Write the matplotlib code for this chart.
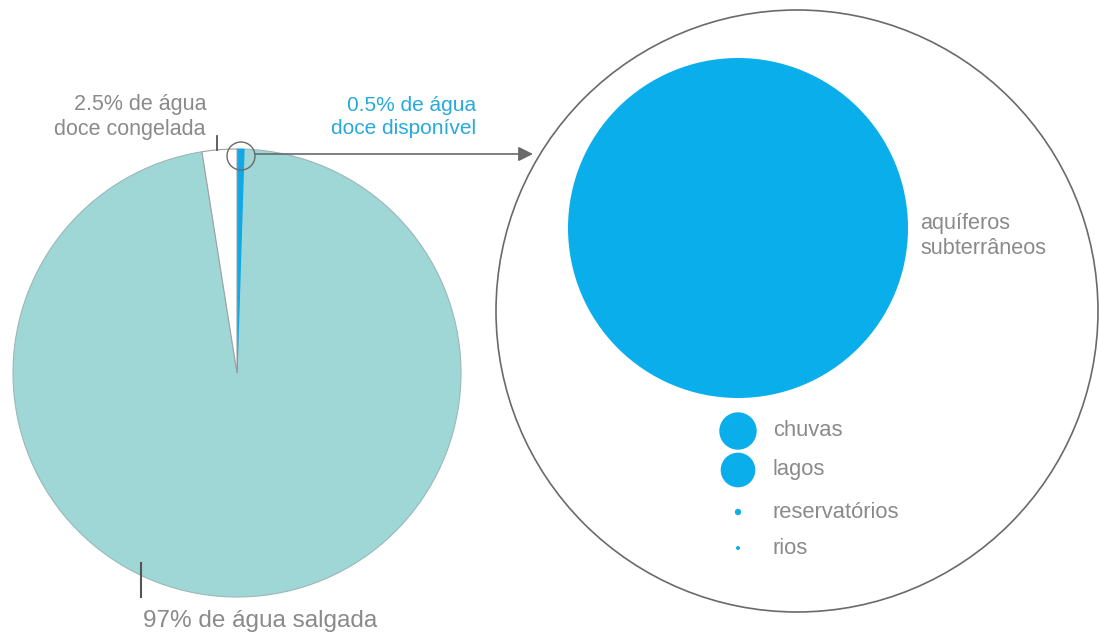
# -*- coding: utf-8 -*-

import numpy as np
import matplotlib.pyplot as plt
from matplotlib.patches import Circle

plt.rcParams['font.family'] = ['Liberation Sans', 'DejaVu Sans']

# share of all water on Earth (%)
pie_labels = ["97% de água salgada", "0.5% de água\ndoce disponível", "2.5% de água\ndoce congelada"]
pie_values = [97, 0.5, 2.5]
pie_colors = ["#9fd6d6", "#12a8e6", "#ffffff"]

# available fresh water, relative volume (bubble area)
fresh_labels = ["aquíferos\nsubterrâneos", "chuvas", "lagos", "reservatórios", "rios"]
fresh_values = [28900, 350, 300, 10, 4]

W, H = 1100, 639
GRAY_TXT = "#8a8a8a"
BLUE_TXT = "#27a9dc"
LINE = "#6a6a6a"
BUBBLE = "#0aaeea"

fig = plt.figure(figsize=(W / 100, H / 100), dpi=100)
ax = fig.add_axes([0, 0, 1, 1])

# left pie
pie_c = (237, H - 373)
pie_r = 224
wedges, _ = ax.pie(pie_values, colors=pie_colors, startangle=99, counterclock=True,
                   center=pie_c, radius=pie_r,
                   wedgeprops=dict(linewidth=0.8, edgecolor="#9ab8b8"))
wedges[1].set_edgecolor(pie_colors[1])
wedges[2].set_edgecolor("#a0a0a0")

# labels of the pie
ax.text(143, H - 621, pie_labels[0], ha="left", va="center", fontsize=17.5, color=GRAY_TXT)
ax.plot([141, 141], [H - 563, H - 597], color="#555555", lw=1.5)
ax.text(206, H - 117, pie_labels[2], ha="right", va="center", fontsize=15.5, color=GRAY_TXT,
        linespacing=1.3)
ax.plot([217, 217], [H - 136, H - 150], color="#555555", lw=1.3)
ax.text(476, H - 117, pie_labels[1], ha="right", va="center", fontsize=15, color=BLUE_TXT,
        linespacing=1.3)

# zoom ring + arrow
ax.add_patch(Circle((241, H - 156), 14, fill=False, edgecolor=LINE, lw=1))
ax.annotate("", xy=(533, H - 154), xytext=(255, H - 154),
            arrowprops=dict(arrowstyle="-|>", color=LINE, lw=1.2, mutation_scale=22,
                            shrinkA=0, shrinkB=0))

# right circle with fresh water sources
ax.add_patch(Circle((797, H - 311), 301, fill=False, edgecolor=LINE, lw=1.2))

r_max = 170
radii = r_max * np.sqrt(np.array(fresh_values) / fresh_values[0])
bubble_x = 738
bubble_y = [228, 431, 470, 512, 548]
for lab, r, y in zip(fresh_labels, radii, bubble_y):
    ax.add_patch(Circle((bubble_x, H - y), r, facecolor=BUBBLE, edgecolor="none"))
ax.text(920, H - 236, fresh_labels[0], ha="left", va="center", fontsize=15.6, color=GRAY_TXT,
        linespacing=1.25)
for lab, y in zip(fresh_labels[1:], bubble_y[1:]):
    ax.text(773, H - y, lab, ha="left", va="center", fontsize=15.8, color=GRAY_TXT)

ax.set_xlim(0, W)
ax.set_ylim(0, H)
ax.set_aspect("auto")
ax.axis("off")

fig.savefig("out.png", dpi=100)
